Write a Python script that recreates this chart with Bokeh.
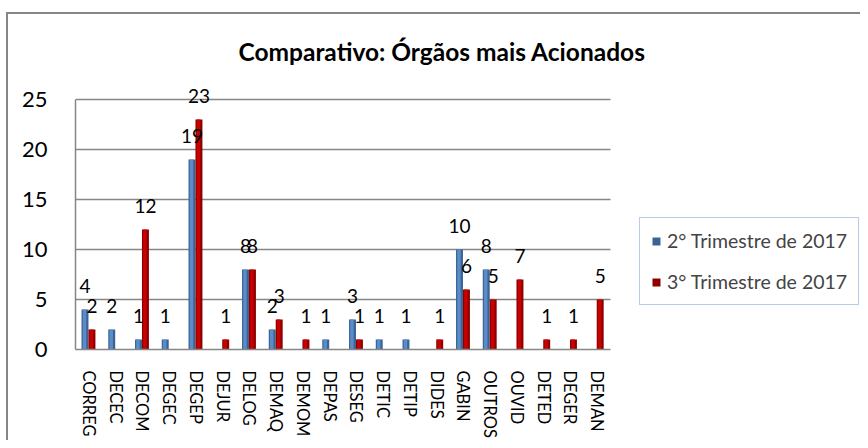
from bokeh.plotting import figure
from bokeh.models import (ColumnDataSource, Range1d, Legend, LegendItem,
                          FixedTicker, InlineStyleSheet)
from bokeh.transform import dodge
from bokeh.core.properties import value
from bokeh.embed import file_html
from bokeh.resources import INLINE

categories = ["CORREG", "DECEC", "DECOM", "DEGEC", "DEGEP", "DEJUR", "DELOG", "DEMAQ",
              "DEMOM", "DEPAS", "DESEG", "DETIC", "DETIP", "DIDES", "GABIN", "OUTROS",
              "OUVID", "DETED", "DEGER", "DEMAN"]
q2_2017 = [4, 2, 1, 1, 19, 0, 8, 2, 0, 1, 3, 1, 1, 0, 10, 8, 0, 0, 0, 0]
q3_2017 = [2, 0, 12, 0, 23, 1, 8, 3, 1, 0, 1, 0, 0, 1, 6, 5, 7, 1, 1, 5]
series_names = ["2° Trimestre de 2017", "3° Trimestre de 2017"]
y_ticks = [0, 5, 10, 15, 20, 25]
title_text = "Comparativo: Órgãos mais Acionados"

FONT = "Lato"
n = len(categories)
idx = list(range(n))

# frame spans 75..860 px; categories occupy the first 535 px (26.75 px each)
CAT_PX = 26.75
FRAME_W = 785
x_end = -0.5 + FRAME_W / CAT_PX

p = figure(width=860, height=440, x_range=Range1d(-0.5, x_end), y_range=Range1d(0, 27),
           output_backend="svg", toolbar_location=None,
           min_border_left=75, min_border_right=0, min_border_top=79, min_border_bottom=89)
p.background_fill_color = "white"
p.border_fill_color = "white"
p.outline_line_color = None

# outer chart border (left and top edges visible in the reference)
p.stylesheets = [InlineStyleSheet(css=(
    ":host::after{content:'';position:absolute;left:6px;top:12px;right:0;bottom:0;"
    "border-left:2px solid #868686;border-top:2px solid #868686;pointer-events:none;}"))]

src = ColumnDataSource(dict(i=idx, q2=q2_2017, q3=q3_2017))

# horizontal gridlines across the category area only
p.segment(x0=-0.5, x1=n - 0.5, y0=y_ticks[1:], y1=y_ticks[1:],
          line_color="#868686", line_width=1.5)

OFF_B, OFF_R, BW = -0.145, 0.115, 0.26

# bars (outer darker edge + lighter centre to mimic the 3D shading)
r_b = p.vbar(x=dodge("i", OFF_B), top="q2", width=BW, source=src,
             fill_color="#3A6496", line_color=None)
p.vbar(x=dodge("i", OFF_B - 0.02), top="q2", width=0.13, source=src,
       fill_color="#5B8CC8", line_color=None)
r_r = p.vbar(x=dodge("i", OFF_R), top="q3", width=BW, source=src,
             fill_color="#8E0000", line_color=None)
p.vbar(x=dodge("i", OFF_R - 0.02), top="q3", width=0.13, source=src,
       fill_color="#C80000", line_color=None)

# data labels (nonzero values only)
def nz(vals):
    c = [k for k, v in zip(idx, vals) if v != 0]
    v = [x for x in vals if x != 0]
    return ColumnDataSource(dict(i=c, val=v, lab=[str(x) for x in v]))

for vals, off in ((q2_2017, OFF_B), (q3_2017, OFF_R)):
    p.text(x=dodge("i", off), y="val", text="lab", source=nz(vals),
           y_offset=-24, text_align="center", text_baseline="middle",
           text_font=value(FONT), text_font_size="19px", text_color="black")

# axes
p.yaxis.ticker = FixedTicker(ticks=y_ticks)
p.yaxis.bounds = (0, 25)
p.yaxis.major_label_text_font = FONT
p.yaxis.major_label_text_font_size = "22px"
p.yaxis.major_label_text_color = "black"
p.yaxis.major_tick_line_color = None
p.yaxis.minor_tick_line_color = None
p.yaxis.major_label_standoff = 22
p.yaxis.axis_line_color = "#868686"
p.yaxis.axis_line_width = 1.5

p.xaxis.ticker = FixedTicker(ticks=idx)
p.xaxis.major_label_overrides = {i: c for i, c in zip(idx, categories)}
p.xaxis.bounds = (-0.5, n - 0.5)
p.xaxis.major_label_orientation = "vertical"
p.xaxis.major_label_text_font = FONT
p.xaxis.major_label_text_font_size = "16.5px"
p.xaxis.major_label_text_color = "black"
p.xaxis.major_tick_line_color = None
p.xaxis.minor_tick_line_color = None
p.xaxis.major_label_standoff = 15
p.xaxis.axis_line_color = "#868686"
p.xaxis.axis_line_width = 1.5

p.xgrid.grid_line_color = None
p.ygrid.grid_line_color = None

# title
p.title.text = title_text
p.title.align = "left"
p.title.offset = 163
p.title.standoff = 27
p.title.text_font = FONT
p.title.text_font_style = "bold"
p.title.text_font_size = "24.5px"
p.title.text_color = "black"

legend = Legend(items=[LegendItem(label=series_names[0], renderers=[r_b]),
                       LegendItem(label=series_names[1], renderers=[r_r])],
                location=(564, 44), orientation="vertical",
                border_line_color="#6F9AD3", border_line_width=1.5,
                background_fill_color="white", background_fill_alpha=1,
                label_text_font=FONT, label_text_font_size="19.5px",
                glyph_width=10, glyph_height=10, label_height=22, spacing=18,
                padding=11, margin=0, label_standoff=6)
p.add_layout(legend)

open("out.html", "w").write(file_html(p, INLINE))
